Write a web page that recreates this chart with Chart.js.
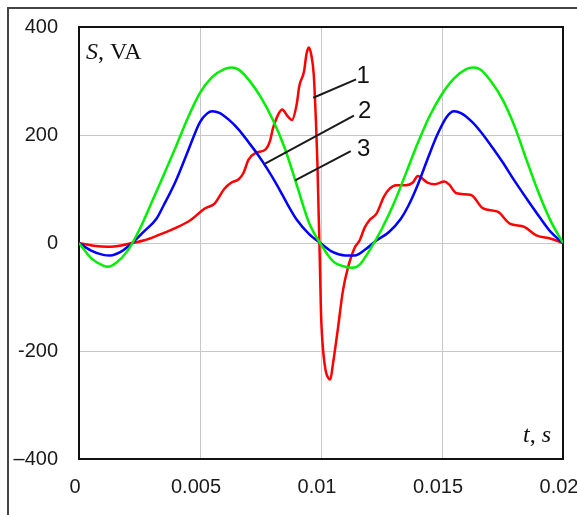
<!DOCTYPE html>
<html>
<head>
<meta charset="utf-8">
<script src="https://cdn.jsdelivr.net/npm/chart.js@4.4.1/dist/chart.umd.min.js"></script>
<style>
html,body{margin:0;padding:0;background:#fff;}
#wrap{width:577px;height:515px;position:relative;}
</style>
</head>
<body>
<div id="wrap"><canvas id="c" width="577" height="515"></canvas></div>
<script>
// ---- data (time in s, apparent power S in VA) ----
const tRed = [0,0.0006,0.0012,0.0018,0.0022,0.0027,0.0033,0.004,0.0046,0.0052,0.0056,0.006,0.0063,0.0066,0.0068,0.007,0.0073,0.0077,0.0079,0.008,0.0082,0.0084,0.0086,0.0088,0.009,0.0091,0.0093,0.0094,0.0095,0.0096,0.0097,0.0098,0.00985,0.0099,0.00995,0.01,0.0101,0.0102,0.0103,0.01038,0.0105,0.0107,0.0109,0.0111,0.0114,0.0116,0.0118,0.012,0.0123,0.0126,0.01285,0.0131,0.0135,0.0138,0.014,0.0144,0.0147,0.0151,0.0153,0.0156,0.0162,0.0167,0.0173,0.0178,0.0184,0.0189,0.0195,0.02];
const sRed = [0,-5,-7,-4,0,5,15,28,42,64,73,100,112,118,130,154,167,173,190,210,235,247,236,228,258,290,318,350,362,348,312,215,150,60,-30,-130,-205,-238,-250,-253,-222,-158,-90,-48,-8,5,28,42,55,86,101,107,107,112,124,112,109,114,108,92,89,64,58,36,30,14,8,0];

const tBlue = [0,0.0005,0.001,0.0013,0.0017,0.0022,0.0027,0.0032,0.0035,0.004,0.0045,0.005,0.0053,0.0055,0.0058,0.0062,0.0066,0.007,0.0074,0.0078,0.0082,0.0086,0.009,0.0095,0.01,0.0105,0.011,0.0114,0.0118,0.0123,0.0128,0.0133,0.0136,0.014,0.0144,0.0148,0.0152,0.0155,0.0158,0.0162,0.0166,0.017,0.0175,0.018,0.0185,0.019,0.0195,0.02];
const sBlue = [0,-14,-22,-23,-17,0,22,45,70,115,170,224,240,244,241,228,210,187,163,136,106,73,43,17,-1,-17,-23,-23,-13,5,20,45,68,108,155,200,234,244,240,226,206,182,150,115,82,50,20,0];

const tGreen = [0,0.0005,0.001,0.0012,0.0015,0.002,0.0025,0.003,0.0035,0.004,0.0045,0.005,0.0055,0.006,0.0063,0.0066,0.007,0.0075,0.008,0.0085,0.009,0.0095,0.01,0.0105,0.011,0.0113,0.0116,0.012,0.0125,0.013,0.0135,0.014,0.0145,0.015,0.0155,0.016,0.0163,0.0166,0.017,0.0175,0.018,0.0185,0.019,0.0195,0.02];
const sGreen = [0,-28,-42,-44,-38,-15,25,75,126,178,232,278,307,322,325,321,303,271,229,176,107,38,-3,-34,-44,-46,-40,-14,25,72,128,185,236,276,305,322,325,321,301,266,216,153,92,40,0];

const xTickLabels = ['0','0.005','0.01','0.015','0.02'];
const yTickLabels = ['\u2013400','-200','0','200','400'];

// curve labels: number and leader line (data coordinates)
const curveNames = ['1','2','3'];
const labelPos = [[0.01174,308],[0.0118,243],[0.01176,174]];
const leaderFrom = [[0.00968,269],[0.00769,147],[0.00893,116]];
const leaderTo = [[0.01145,303],[0.01136,236],[0.01123,170]];

function pts(t, s){ return t.map((v,i)=>({x:v,y:s[i]})); }

const framePlugin = {
  id:'frame',
  beforeDatasetsDraw(chart){
    const ctx = chart.ctx, a = chart.chartArea;
    ctx.save();
    ctx.strokeStyle = '#454545';
    ctx.lineWidth = 2;
    ctx.beginPath();
    ctx.moveTo(8,515); ctx.lineTo(8,8); ctx.lineTo(577,8);
    ctx.stroke();
    ctx.strokeStyle = '#111';
    ctx.lineWidth = 2;
    ctx.strokeRect(a.left, a.top, a.right-a.left, a.bottom-a.top);
    ctx.restore();
  },
  afterDatasetsDraw(chart){
    const ctx = chart.ctx, xs = chart.scales.x, ys = chart.scales.y;
    ctx.save();
    ctx.fillStyle = '#111';
    ctx.textBaseline = 'alphabetic';
    ctx.textAlign = 'left';
    const it = 'italic 24px "Liberation Serif", serif', up = '24px "Liberation Serif", serif';
    let x = 86, y = 59;
    ctx.font = it; ctx.fillText('S', x, y); x += ctx.measureText('S').width;
    ctx.font = up; ctx.fillText(', VA', x, y);
    x = 523; y = 442;
    ctx.font = it; ctx.fillText('t', x, y); x += ctx.measureText('t').width;
    ctx.font = up; ctx.fillText(', ', x, y); x += ctx.measureText(', ').width;
    ctx.font = it; ctx.fillText('s', x, y);
    ctx.strokeStyle = '#1a1a1a';
    ctx.lineWidth = 2;
    for (let i=0;i<curveNames.length;i++){
      ctx.beginPath();
      ctx.moveTo(xs.getPixelForValue(leaderFrom[i][0]), ys.getPixelForValue(leaderFrom[i][1]));
      ctx.lineTo(xs.getPixelForValue(leaderTo[i][0]), ys.getPixelForValue(leaderTo[i][1]));
      ctx.stroke();
    }
    ctx.font = '24px "Liberation Sans", Arial, sans-serif';
    ctx.textAlign = 'center';
    ctx.textBaseline = 'middle';
    for (let i=0;i<curveNames.length;i++){
      ctx.fillText(curveNames[i], xs.getPixelForValue(labelPos[i][0]), ys.getPixelForValue(labelPos[i][1]));
    }
    ctx.restore();
  }
};

const tickFont = {family:'"Liberation Sans", Arial, sans-serif', size:20};

new Chart(document.getElementById('c'), {
  type:'line',
  data:{
    datasets:[
      {label:'1', data:pts(tRed,sRed), borderColor:'#ff0000', borderWidth:2.5, pointRadius:0, cubicInterpolationMode:'monotone', order:3},
      {label:'2', data:pts(tBlue,sBlue), borderColor:'#0000ff', borderWidth:2.5, pointRadius:0, cubicInterpolationMode:'monotone', order:2},
      {label:'3', data:pts(tGreen,sGreen), borderColor:'#00ee00', borderWidth:2.5, pointRadius:0, cubicInterpolationMode:'monotone', order:1}
    ]
  },
  options:{
    responsive:false,
    animation:false,
    devicePixelRatio:1,
    layout:{padding:{left:0, top:27, right:14, bottom:0}},
    plugins:{legend:{display:false}, tooltip:{enabled:false}},
    scales:{
      x:{
        type:'linear', min:0, max:0.02,
        border:{display:false},
        grid:{color:'#c8c8c8', lineWidth:1, drawTicks:false},
        ticks:{stepSize:0.005, font:tickFont, color:'#1a1a1a', padding:16, labelOffset:-4, maxRotation:0, autoSkip:false,
          callback:(v,i)=>xTickLabels[i]},
        afterFit(s){ s.height = 56; s.paddingLeft = 0; s.paddingRight = 0; }
      },
      y:{
        type:'linear', min:-400, max:400,
        border:{display:false},
        grid:{color:'#c8c8c8', lineWidth:1, drawTicks:false},
        ticks:{stepSize:200, font:tickFont, color:'#1a1a1a', padding:21,
          callback:(v,i)=>yTickLabels[i]},
        afterFit(s){ s.width = 79; s.paddingTop = 0; s.paddingBottom = 0; }
      }
    }
  },
  plugins:[framePlugin]
});
</script>
</body>
</html>
